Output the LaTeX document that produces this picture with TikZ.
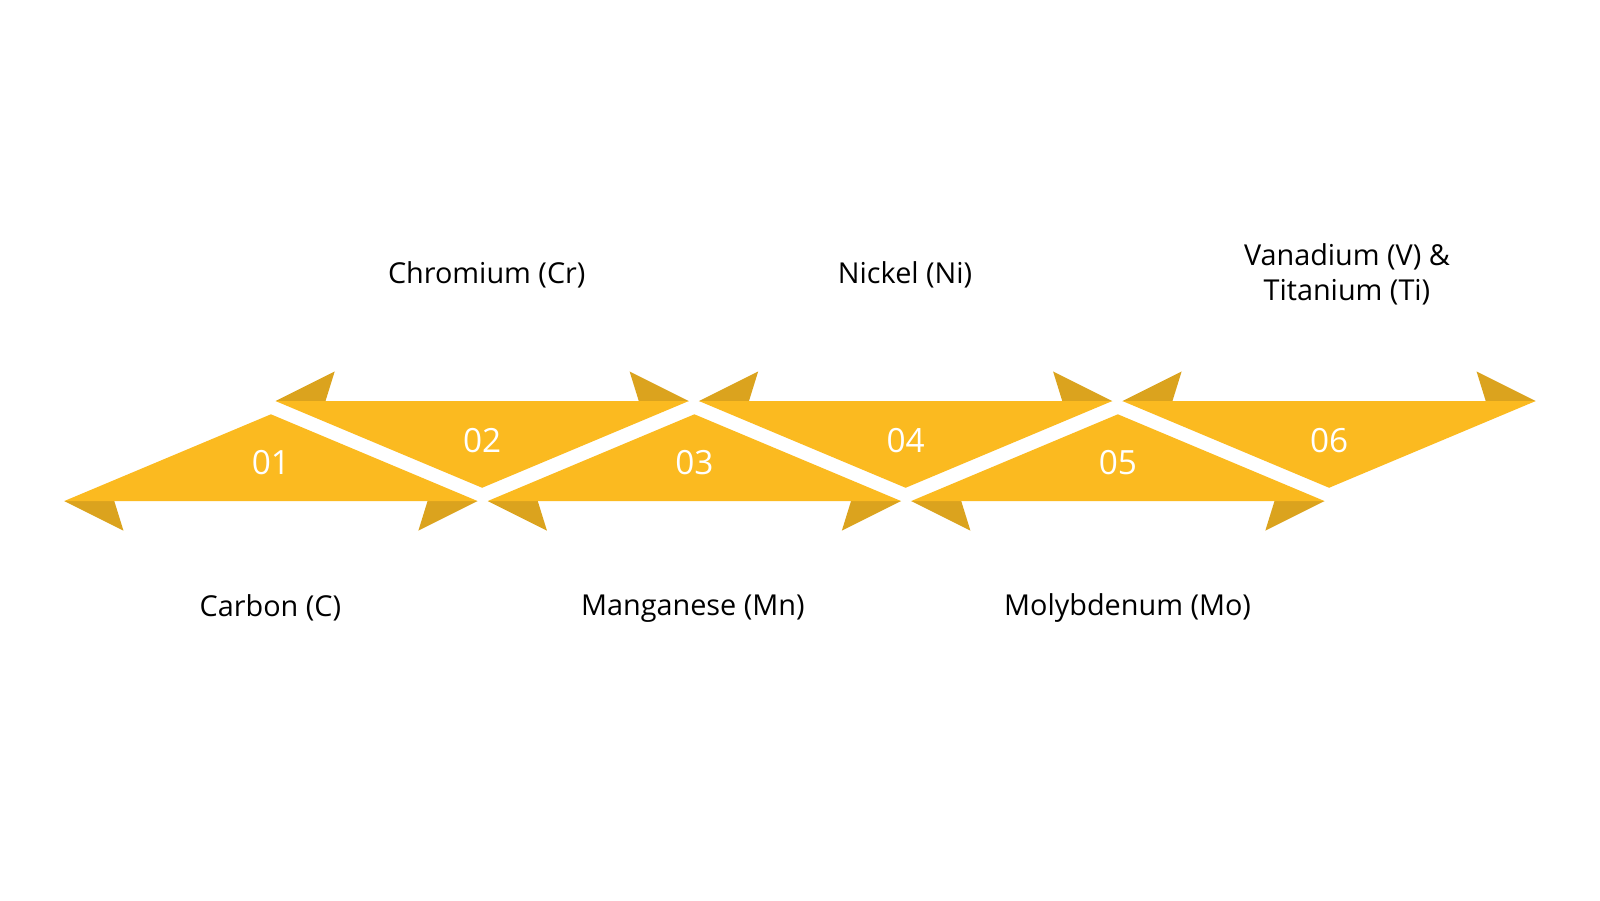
\documentclass[tikz,border=0pt]{standalone}
\usepackage{fontspec}
\setmainfont{Open Sans}
\definecolor{band}{HTML}{FBBA20}
\definecolor{flap}{HTML}{DBA31E}
\begin{document}
\begin{tikzpicture}[x=0.010204cm,y=-0.010204cm]
		\newcommand{\wid}{405}
		\newcommand{\per}{415}
		\newcommand{\lowy}{491}
		\newcommand{\upy}{393}
		% styles
		\tikzset{
			band/.style={fill=band},
			flap/.style={fill=flap},
			num/.style={text=white,font=\fontsize{9.5}{11}\selectfont},
			lab/.style={font=\fontsize{8.2}{10}\selectfont,align=center}
		}
		\useasboundingbox (0,0) rectangle (1568,882);
		% lower bands
		\foreach \i/\n in {0/01,1/03,2/05}{
			\pgfmathsetmacro{\xl}{63+\i*\per}
			\fill[flap] (\xl,\lowy) -- (\xl+58,520) -- (\xl+49,\lowy) -- cycle;
			\fill[flap] (\xl+\wid,\lowy) -- (\xl+\wid-58,520) -- (\xl+\wid-49,\lowy) -- cycle;
			\fill[band] (\xl,\lowy) -- (\xl+\wid/2,406) -- (\xl+\wid,\lowy) -- cycle;
			\node[num] (n\n) at (\xl+\wid/2,453) {\n};
		}
		% upper bands
		\foreach \i/\n in {0/02,1/04,2/06}{
			\pgfmathsetmacro{\xl}{270+\i*\per}
			\fill[flap] (\xl,\upy) -- (\xl+58,364) -- (\xl+49,\upy) -- cycle;
			\fill[flap] (\xl+\wid,\upy) -- (\xl+\wid-58,364) -- (\xl+\wid-49,\upy) -- cycle;
			\fill[band] (\xl,\upy) -- (\xl+\wid,\upy) -- (\xl+\wid/2,478) -- cycle;
			\node[num] (n\n) at (\xl+\wid/2,432) {\n};
		}
		% labels
		\node[lab] (carbon) at (265,596) {Carbon (C)};
		\node[lab] (manganese) at (679,596) {Manganese (Mn)};
		\node[lab] (molybdenum) at (1105,596) {Molybdenum (Mo)};
		\node[lab] (chromium) at (477,269) {Chromium (Cr)};
		\node[lab] (nickel) at (887,269) {Nickel (Ni)};
		\node[lab] (vanadium) at (1320,269) {Vanadium (V) \&\\Titanium (Ti)};
\end{tikzpicture}
\end{document}
